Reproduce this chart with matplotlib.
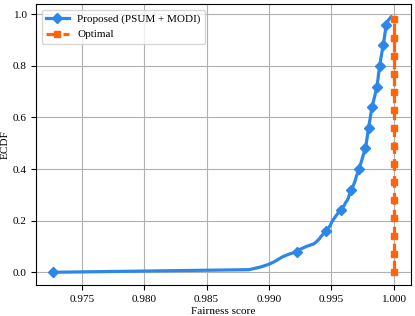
import numpy as np
import matplotlib
matplotlib.use("Agg")
import matplotlib.pyplot as plt

plt.rcParams['font.family'] = ['Liberation Serif', 'DejaVu Serif']
plt.rcParams['font.size'] = 8.1

# Sorted fairness scores (100 samples)
proposed_scores = [
    0.97272, 0.98840, 0.98930, 0.98995, 0.99040, 0.99075, 0.99110, 0.99160,
    0.99225, 0.99255, 0.99300, 0.99360, 0.99385, 0.99405, 0.99420, 0.99440,
    0.99455, 0.99475, 0.99490, 0.99500, 0.99510, 0.99525, 0.99540, 0.99555,
    0.99575, 0.99590, 0.99605, 0.99615, 0.99630, 0.99638, 0.99645, 0.99652,
    0.99662, 0.99672, 0.99680, 0.99688, 0.99695, 0.99700, 0.99708, 0.99714,
    0.99720, 0.99728, 0.99735, 0.99742, 0.99748, 0.99754, 0.99760, 0.99766,
    0.99774, 0.99778, 0.99781, 0.99784, 0.99787, 0.99790, 0.99793, 0.99797,
    0.99800, 0.99803, 0.99806, 0.99810, 0.99813, 0.99816, 0.99820, 0.99823,
    0.99827, 0.99832, 0.99837, 0.99842, 0.99847, 0.99852, 0.99857, 0.99862,
    0.99867, 0.99870, 0.99872, 0.99875, 0.99877, 0.99880, 0.99883, 0.99885,
    0.99888, 0.99891, 0.99895, 0.99898, 0.99902, 0.99905, 0.99909, 0.99912,
    0.99916, 0.99919, 0.99923, 0.99926, 0.99929, 0.99932, 0.99935, 0.99939,
    0.99942, 0.99950, 0.99962, 0.99980,
]
optimal_scores = [
    1.0, 1.0, 1.0, 1.0, 1.0, 1.0, 1.0, 1.0, 1.0, 1.0,
    1.0, 1.0, 1.0, 1.0, 1.0, 1.0, 1.0, 1.0, 1.0, 1.0,
    1.0, 1.0, 1.0, 1.0, 1.0, 1.0, 1.0, 1.0, 1.0, 1.0,
    1.0, 1.0, 1.0, 1.0, 1.0, 1.0, 1.0, 1.0, 1.0, 1.0,
    1.0, 1.0, 1.0, 1.0, 1.0, 1.0, 1.0, 1.0, 1.0, 1.0,
    1.0, 1.0, 1.0, 1.0, 1.0, 1.0, 1.0, 1.0, 1.0, 1.0,
    1.0, 1.0, 1.0, 1.0, 1.0, 1.0, 1.0, 1.0, 1.0, 1.0,
    1.0, 1.0, 1.0, 1.0, 1.0, 1.0, 1.0, 1.0, 1.0, 1.0,
    1.0, 1.0, 1.0, 1.0, 1.0, 1.0, 1.0, 1.0, 1.0, 1.0,
    1.0, 1.0, 1.0, 1.0, 1.0, 1.0, 1.0, 1.0, 1.0, 1.0,
]
labels = ["Proposed (PSUM + MODI)", "Optimal"]
x_label = "Fairness score"
y_label = "ECDF"


def ecdf(values):
    xs = np.sort(np.asarray(values))
    ys = np.arange(len(xs)) / len(xs)
    return xs, ys


fig = plt.figure(figsize=(4.15, 3.16), dpi=100)
ax = fig.add_axes([0.0875, 0.098, 0.902, 0.889])

x1, y1 = ecdf(proposed_scores)
x2, y2 = ecdf(optimal_scores)
ax.plot(x1, y1, color='#2c87e9', lw=2.3, marker='D', ms=4.6, markevery=8,
        label=labels[0])
ax.plot(x2, y2, color='#ff640a', lw=2.3, ls='--', marker='s', ms=3.8,
        markevery=7, label=labels[1])

ax.set_xlabel(x_label, labelpad=2)
ax.set_ylabel(y_label, labelpad=2)
ax.set_xticks([0.975, 0.980, 0.985, 0.990, 0.995, 1.000])
ax.set_yticks([0.0, 0.2, 0.4, 0.6, 0.8, 1.0])
ax.grid(True, color='#b0b0b0', lw=0.8)
ax.legend(loc='upper left', fontsize=8.0)

fig.savefig("out.png", dpi=100)
